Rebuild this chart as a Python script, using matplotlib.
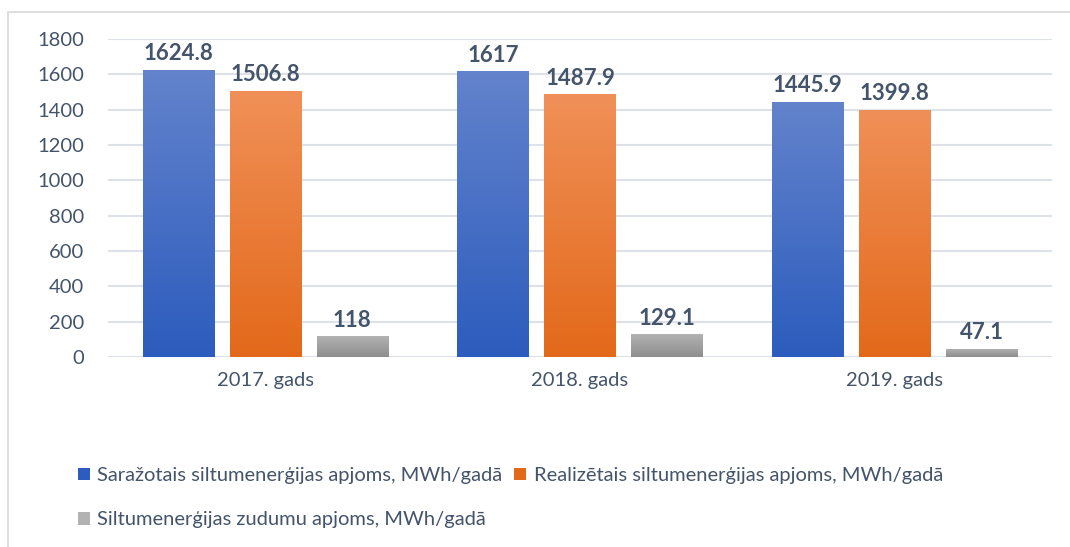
import matplotlib
matplotlib.use("Agg")
import matplotlib.pyplot as plt
import numpy as np
from matplotlib.colors import LinearSegmentedColormap
from matplotlib.patches import Rectangle, Patch

categories = ["2017. gads", "2018. gads", "2019. gads"]
series_names = ["Saražotais siltumenerģijas apjoms, MWh/gadā",
                "Realizētais siltumenerģijas apjoms, MWh/gadā",
                "Siltumenerģijas zudumu apjoms, MWh/gadā"]
produced = [1624.8, 1617, 1445.9]
sold = [1506.8, 1487.9, 1399.8]
losses = [118, 129.1, 47.1]
value_labels = [["1624.8", "1617", "1445.9"],
                ["1506.8", "1487.9", "1399.8"],
                ["118", "129.1", "47.1"]]
y_ticks = [0, 200, 400, 600, 800, 1000, 1200, 1400, 1600, 1800]

grad_top = ["#6383CC", "#F09058", "#B2B2B2"]
grad_bot = ["#2C5CBD", "#E3691A", "#8E8E8E"]
text_color = "#44546A"

plt.rcParams['font.family'] = ['Lato', 'DejaVu Sans']

fig = plt.figure(figsize=(10.70, 5.47), dpi=100)
fig.patches.append(Rectangle((8/1070, -0.1), 1.2, 1 - 12/547 + 0.1, transform=fig.transFigure,
                             fill=False, edgecolor="#D9D9D9", linewidth=1.2, zorder=0))

ax = fig.add_axes([108/1070, 1 - 357/547, (1052-108)/1070, (357-39)/547])
ax.set_xlim(-0.5, 2.5)
ax.set_ylim(0, 1800)

x = np.arange(len(categories))
width = 0.226
offset = 0.2765
all_series = [produced, sold, losses]
handles = []
for i, vals in enumerate(all_series):
    cmap = LinearSegmentedColormap.from_list(f"g{i}", [grad_bot[i], grad_top[i]])
    bars = ax.bar(x + (i - 1) * offset, vals, width, color=grad_top[i], zorder=2)
    for b, lab in zip(bars, value_labels[i]):
        bx, by = b.get_x(), b.get_y()
        bw, bh = b.get_width(), b.get_height()
        grad = np.linspace(0, 1, 256).reshape(-1, 1)
        im = ax.imshow(grad, cmap=cmap, origin="lower", aspect="auto",
                       extent=[bx, bx + bw, by, by + bh], zorder=3)
        im.set_clip_path(b)
        ax.annotate(lab, (bx + bw / 2, by + bh), xytext=(0, 4), textcoords="offset points",
                    ha="center", va="bottom", fontsize=16, fontweight="bold", color=text_color, zorder=4)
    handles.append(Patch(facecolor=grad_bot[i] if i < 2 else grad_top[i], edgecolor="none"))

ax.set_xlim(-0.5, 2.5)
ax.set_ylim(0, 1800)
ax.set_yticks(y_ticks)
ax.set_xticks(x)
ax.set_xticklabels(categories)
ax.yaxis.grid(True, color="#DDE1E8", linewidth=1.5, zorder=0)
ax.set_axisbelow(True)
for s in ax.spines.values():
    s.set_visible(False)
ax.tick_params(axis="both", length=0, labelsize=14.5, colors=text_color)
ax.tick_params(axis="y", pad=17)
ax.tick_params(axis="x", pad=11)

order = [0, 2, 1]
leg = fig.legend([handles[k] for k in order], [series_names[k] for k in order],
                 ncol=2, loc="upper left", bbox_to_anchor=(70/1070, 1 - 459/547),
                 frameon=False, fontsize=14.5, handlelength=0.6, handleheight=0.6,
                 handletextpad=0.35, columnspacing=0.6, labelspacing=1.35, labelcolor=text_color,
                 borderaxespad=0)

fig.savefig("out.png", dpi=100)
